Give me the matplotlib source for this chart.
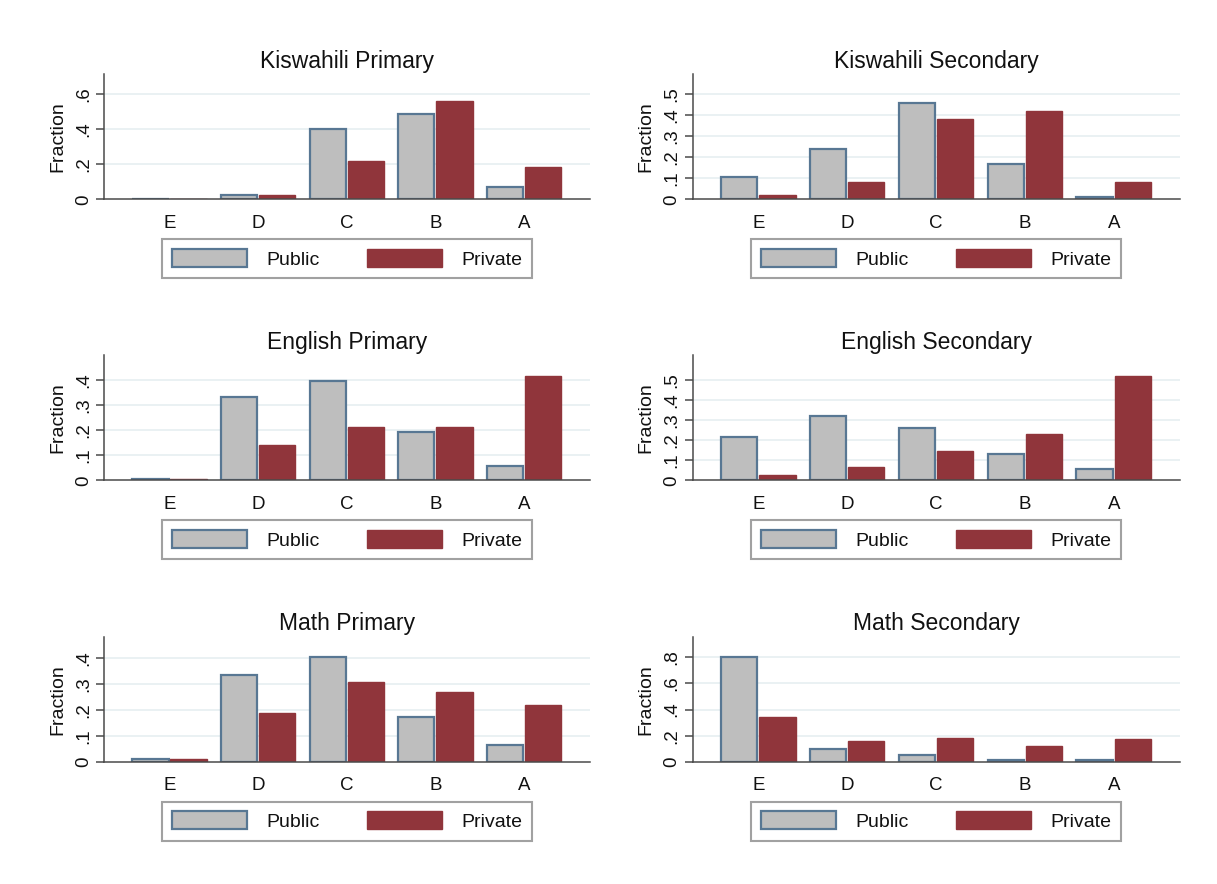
import matplotlib
matplotlib.use("Agg")
import matplotlib.pyplot as plt
from matplotlib.patches import Patch
import numpy as np

plt.rcParams['font.family'] = ['Liberation Sans', 'DejaVu Sans']

grades = ['E', 'D', 'C', 'B', 'A']
series_labels = ['Public', 'Private']

kisw_pri_public = [0.003, 0.022, 0.400, 0.490, 0.068]
kisw_pri_private = [0.003, 0.022, 0.220, 0.563, 0.183]
kisw_sec_public = [0.105, 0.241, 0.460, 0.168, 0.011]
kisw_sec_private = [0.022, 0.084, 0.381, 0.422, 0.081]
eng_pri_public = [0.005, 0.332, 0.397, 0.192, 0.059]
eng_pri_private = [0.005, 0.143, 0.213, 0.213, 0.417]
eng_sec_public = [0.215, 0.322, 0.262, 0.132, 0.057]
eng_sec_private = [0.027, 0.068, 0.147, 0.230, 0.522]
math_pri_public = [0.012, 0.333, 0.401, 0.173, 0.064]
math_pri_private = [0.012, 0.186, 0.308, 0.269, 0.217]
math_sec_public = [0.800, 0.095, 0.051, 0.015, 0.015]
math_sec_private = [0.345, 0.161, 0.184, 0.123, 0.174]

titles = ['Kiswahili Primary', 'Kiswahili Secondary',
          'English Primary', 'English Secondary',
          'Math Primary', 'Math Secondary']
ticks_kp = [0, 0.2, 0.4, 0.6]
ticks_ks = [0, 0.1, 0.2, 0.3, 0.4, 0.5]
ticks_ep = [0, 0.1, 0.2, 0.3, 0.4]
ticks_es = [0, 0.1, 0.2, 0.3, 0.4, 0.5]
ticks_mp = [0, 0.1, 0.2, 0.3, 0.4]
ticks_ms = [0, 0.2, 0.4, 0.6, 0.8]
ylim_tops = [0.714, 0.595, 0.50, 0.625, 0.481, 0.959]

panels = [
    (kisw_pri_public, kisw_pri_private, ticks_kp),
    (kisw_sec_public, kisw_sec_private, ticks_ks),
    (eng_pri_public, eng_pri_private, ticks_ep),
    (eng_sec_public, eng_sec_private, ticks_es),
    (math_pri_public, math_pri_private, ticks_mp),
    (math_sec_public, math_sec_private, ticks_ms),
]

W, H = 1217, 884
fig = plt.figure(figsize=(W / 100, H / 100), dpi=100)
fig.patch.set_facecolor('white')

pub_fill = '#BEBEBE'
pub_edge = '#587793'
priv_fill = '#90353B'
axis_col = '#4a4a4a'
grid_col = '#E6EFF1'

col_x = [(104, 590), (692.5, 1180)]
row_zero = [199.3, 480.3, 761.7]
ax_h = 125


def fmt(v):
    if v == 0:
        return '0'
    s = ('%.1f' % v)
    return s.lstrip('0')


x = np.arange(len(grades))
bw = 0.41
off = 0.215

for i, (pub, priv, yt) in enumerate(panels):
    r, c = divmod(i, 2)
    x0, x1 = col_x[c]
    z = row_zero[r]
    ax = fig.add_axes([x0 / W, 1 - z / H, (x1 - x0) / W, ax_h / H])
    ax.set_facecolor('white')
    ax.bar(x - off, pub, width=bw, color=pub_fill, edgecolor=pub_edge,
           linewidth=1.6, zorder=3)
    ax.bar(x + off, priv, width=bw, color=priv_fill, edgecolor=priv_fill,
           linewidth=1.0, zorder=3)
    ax.set_xlim(-0.74, 4.745)
    ax.set_ylim(0, ylim_tops[i])
    ax.set_yticks(yt)
    ax.set_yticklabels([fmt(v) for v in yt])
    for v in yt[1:]:
        ax.axhline(v, color=grid_col, linewidth=1.2, zorder=1)
    ax.set_xticks(x)
    ax.set_xticklabels(grades)
    for s in ['top', 'right']:
        ax.spines[s].set_visible(False)
    for s in ['left', 'bottom']:
        ax.spines[s].set_color(axis_col)
        ax.spines[s].set_linewidth(1.1)
        ax.spines[s].set_zorder(4)
    ax.tick_params(axis='x', length=0, pad=11, labelsize=13.5, colors='#111111')
    ax.tick_params(axis='y', length=5.8, width=1.1, color=axis_col, pad=3.0,
                   labelsize=13.5, labelcolor='#111111', labelrotation=90)
    for lab in ax.get_yticklabels():
        lab.set_verticalalignment('center')
    ax.set_ylabel('Fraction', fontsize=14, color='#111111')
    ax.yaxis.set_label_coords(-38 / (x1 - x0), 0.5)
    ax.set_title(titles[i], fontsize=16.5, color='#111111', pad=4.5)

    handles = [Patch(facecolor=pub_fill, edgecolor=pub_edge, linewidth=1.6),
               Patch(facecolor=priv_fill, edgecolor=priv_fill, linewidth=1.0)]
    cx = (x0 + x1) / 2
    ltop = z + 40
    leg = ax.legend(handles, series_labels, ncol=2, loc='upper center',
                    bbox_to_anchor=(cx / W, 1 - ltop / H),
                    bbox_transform=fig.transFigure,
                    fontsize=14, frameon=True, fancybox=False,
                    edgecolor='#8a8a8a', handlelength=3.86, handleheight=1.03,
                    handletextpad=0.98, columnspacing=2.45, borderpad=0.5,
                    borderaxespad=0)
    leg.get_frame().set_linewidth(1.5)
    for t in leg.get_texts():
        t.set_color('#111111')

fig.savefig('out.png', dpi=100, facecolor='white')
